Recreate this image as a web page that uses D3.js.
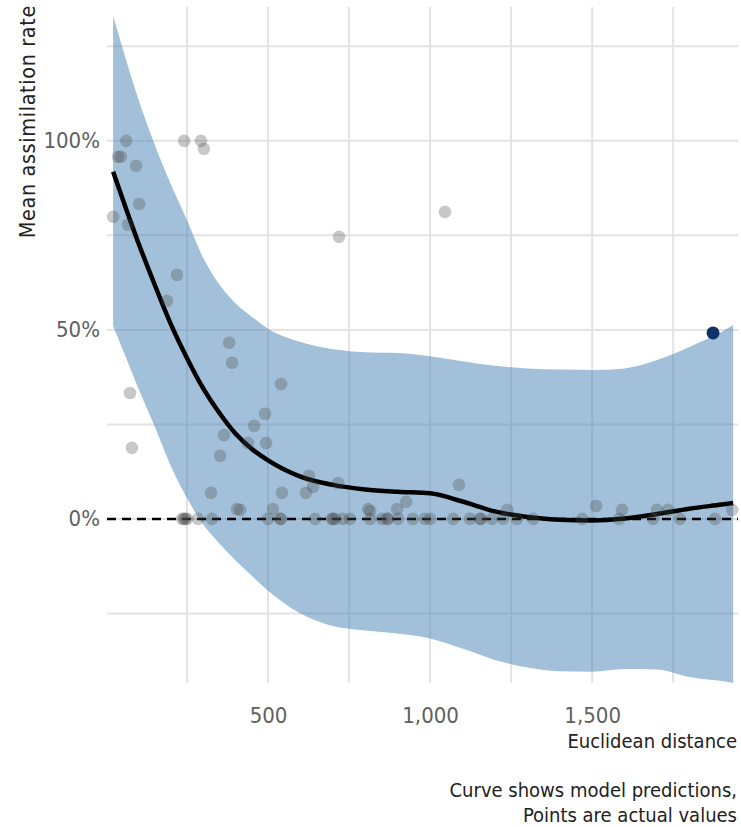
<!DOCTYPE html>
<html>
<head>
<meta charset="utf-8">
<script src="https://cdn.jsdelivr.net/npm/d3@7"></script>
<style>
  body { margin: 0; background: #fff; }
  text { font-family: "DejaVu Sans Condensed", "Liberation Sans Narrow", "Roboto", sans-serif; }
</style>
</head>
<body>
<div id="chart"></div>
<script>
const width = 741;
const height = 827;

// model prediction (curve) and interval, percent
const gridDist = [22, 60, 100, 150, 200, 250, 300, 350, 400, 450, 500, 600, 700, 800, 900, 1000, 1100, 1200, 1300, 1400, 1500, 1600, 1700, 1800, 1900, 1935];
const predMean = [91.8, 82.5, 73, 62, 51.5, 42.5, 34.5, 28, 22.5, 18.5, 15.5, 11.2, 9, 7.8, 7.2, 6.8, 4.6, 2, 0.5, -0.2, -0.4, 0.1, 1.3, 2.7, 3.8, 4.2];
const predUpper = [133, 122, 111, 99, 88.5, 79, 69, 62, 57, 53.5, 50.3, 46.8, 44.9, 44.1, 43.9, 43, 41.7, 40.5, 39.8, 39.5, 39.4, 39.8, 42, 45.5, 49.5, 51.3];
const predLower = [51, 43, 34.5, 24.5, 14, 5.5, -1.5, -6.5, -11, -15, -19, -25, -28.3, -29.5, -30.3, -31.6, -34.3, -37.3, -39.3, -40.3, -40.4, -39.7, -39.8, -41.8, -42.9, -43.4];

// actual values
const pointDist = [
  62, 37, 46, 93, 102, 22, 68, 241, 293, 302,
  219, 188, 380, 389, 540, 74, 80, 491, 457, 364, 438, 494, 352, 626, 639, 617, 324, 543, 404, 414, 515,
  716, 809, 815, 898, 926, 1089, 1238, 1512, 1592, 1700, 1734, 1932,
  719, 1046,
  235, 240, 245, 250, 284, 327, 500, 537, 540, 645, 697, 700, 707, 731, 753, 815, 852, 867, 870,
  901, 947, 984, 1000, 1071, 1123, 1154, 1157, 1191, 1225, 1268, 1318, 1469, 1583, 1688, 1771, 1879
];
const pointRate = [
  100, 95.8, 95.8, 93.4, 83.3, 79.9, 77.8, 100, 100, 97.9,
  64.6, 57.7, 46.6, 41.3, 35.7, 33.3, 18.8, 27.8, 24.6, 22.2, 20.1, 20.1, 16.7, 11.4, 8.5, 6.9, 6.9, 6.9, 2.6, 2.4, 2.6,
  9.5, 2.6, 2.1, 2.6, 4.5, 9, 2.4, 3.4, 2.4, 2.4, 2.4, 2.4,
  74.6, 81.2,
  0, 0, 0, 0, 0, 0, 0, 0, 0, 0, 0, 0, 0, 0, 0, 0, 0, 0, 0,
  0, 0, 0, 0, 0, 0, 0, 0, 0, 0, 0, 0, 0, 0, 0, 0, 0
];
const highlightDist = [1873];
const highlightRate = [49.2];

const xTicks = [500, 1000, 1500];
const xGrid = [250, 500, 750, 1000, 1250, 1500, 1750];
const yTicks = [0, 50, 100];
const yGrid = [-25, 0, 25, 50, 75, 100, 125];

const svg = d3.select("#chart")
  .append("svg")
  .attr("width", width)
  .attr("height", height);

const x = d3.scaleLinear()
  .domain([0, 1950])
  .range([106, 738]);

const y = d3.scaleLinear()
  .domain([-43.4, 135.4])
  .range([683, 7]);

// gridlines
svg.append("g")
  .selectAll("line")
  .data(yGrid)
  .enter()
  .append("line")
  .attr("x1", x(0) + 1)
  .attr("x2", x(1950))
  .attr("y1", d => y(d))
  .attr("y2", d => y(d))
  .attr("stroke", "#e3e3e3")
  .attr("stroke-width", 2);

svg.append("g")
  .selectAll("line")
  .data(xGrid)
  .enter()
  .append("line")
  .attr("x1", d => x(d))
  .attr("x2", d => x(d))
  .attr("y1", y(135.4))
  .attr("y2", y(-43.4))
  .attr("stroke", "#e3e3e3")
  .attr("stroke-width", 2);

const pred = gridDist.map((d, i) => ({ dist: d, mean: predMean[i], lo: predLower[i], hi: predUpper[i] }));

const area = d3.area()
  .curve(d3.curveMonotoneX)
  .x(d => x(d.dist))
  .y0(d => y(d.lo))
  .y1(d => y(d.hi));

svg.append("path")
  .datum(pred)
  .attr("d", area)
  .attr("fill", "steelblue")
  .attr("fill-opacity", 0.5);

// zero reference
svg.append("line")
  .attr("x1", x(0) + 1)
  .attr("x2", x(1950))
  .attr("y1", y(0))
  .attr("y2", y(0))
  .attr("stroke", "#000")
  .attr("stroke-width", 2.5)
  .attr("stroke-dasharray", "9,6");

const line = d3.line()
  .curve(d3.curveMonotoneX)
  .x(d => x(d.dist))
  .y(d => y(d.mean));

svg.append("path")
  .datum(pred)
  .attr("d", line)
  .attr("fill", "none")
  .attr("stroke", "#000")
  .attr("stroke-width", 4.5);

const points = pointDist.map((d, i) => ({ dist: d, rate: pointRate[i] }));

svg.append("g")
  .selectAll("circle")
  .data(points)
  .enter()
  .append("circle")
  .attr("cx", d => x(d.dist))
  .attr("cy", d => y(d.rate))
  .attr("r", 6.3)
  .attr("fill", "#4a4a4a")
  .attr("fill-opacity", 0.3);

svg.append("g")
  .selectAll("circle")
  .data(highlightDist.map((d, i) => ({ dist: d, rate: highlightRate[i] })))
  .enter()
  .append("circle")
  .attr("cx", d => x(d.dist))
  .attr("cy", d => y(d.rate))
  .attr("r", 6.5)
  .attr("fill", "#0f3366");

// axes
const xAxis = svg.append("g")
  .attr("transform", `translate(0,${y(-43.4) + 8})`)
  .call(d3.axisBottom(x).tickValues(xTicks).tickFormat(d3.format(",")).tickSize(0));
xAxis.select(".domain").remove();
xAxis.selectAll("text")
  .attr("dy", "0.71em")
  .attr("y", 16)
  .attr("fill", "#606060")
  .style("font-size", "22px");

const yAxis = svg.append("g")
  .attr("transform", `translate(${x(0) - 6},0)`)
  .call(d3.axisLeft(y).tickValues(yTicks).tickFormat(d => d + "%").tickSize(0));
yAxis.select(".domain").remove();
yAxis.selectAll("text")
  .attr("x", 0)
  .attr("fill", "#606060")
  .style("font-size", "22px");

svg.append("text")
  .attr("transform", "translate(35,5) rotate(-90)")
  .attr("text-anchor", "end")
  .attr("fill", "#222")
  .style("font-size", "21.5px")
  .style("letter-spacing", "0.6px")
  .text("Mean assimilation rate");

svg.append("text")
  .attr("x", 737)
  .attr("y", 748)
  .attr("text-anchor", "end")
  .attr("fill", "#222")
  .style("font-size", "20px")
  .text("Euclidean distance");

svg.append("text")
  .attr("x", 737)
  .attr("y", 797)
  .attr("text-anchor", "end")
  .attr("fill", "#222")
  .style("font-size", "20px")
  .text("Curve shows model predictions,");

svg.append("text")
  .attr("x", 737)
  .attr("y", 822)
  .attr("text-anchor", "end")
  .attr("fill", "#222")
  .style("font-size", "20px")
  .text("Points are actual values");
</script>
</body>
</html>
